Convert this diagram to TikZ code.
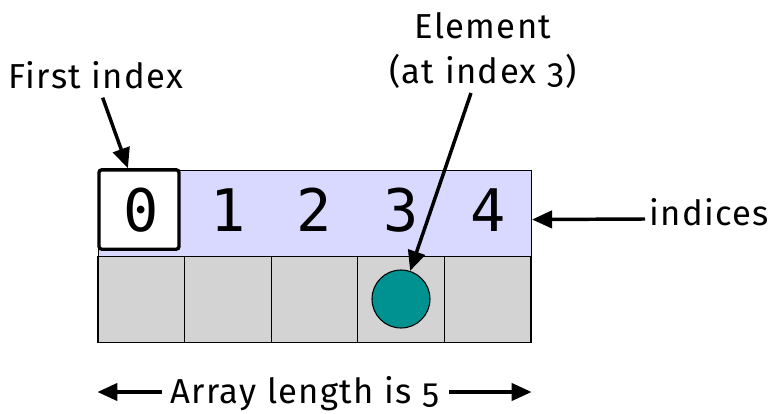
\documentclass[tikz,border=0pt]{standalone}
\usepackage{fontspec}
\setmainfont{Fira Sans}[Numbers=OldStyle, LetterSpace=4]
\newfontfamily\digitfont{DejaVu Sans Mono}
\usetikzlibrary{arrows.meta}
\definecolor{idxfill}{RGB}{217,217,255}
\definecolor{cellgray}{RGB}{211,211,211}
\definecolor{elemteal}{RGB}{0,145,145}
\begin{document}
\begin{tikzpicture}[x=0.75pt, y=-0.75pt,
  lbl/.style={font=\fontsize{26}{33.75}\selectfont, inner sep=0pt},
  idx/.style={font=\digitfont\fontsize{44}{44}\selectfont, inner sep=0pt},
  cell/.style={draw, fill=cellgray, line width=0.8pt, inner sep=0pt,
               minimum width=64.95pt, minimum height=64.9pt},
  pointer/.style={line width=2.6pt, -{Triangle[length=15pt,width=13pt]}},
]
\useasboundingbox (0,0) rectangle (769,414);

% row of indices
\node[draw, fill=idxfill, line width=0.8pt, inner sep=0pt, anchor=north west,
      minimum width=324.75pt, minimum height=64.5pt] (row) at (98,170) {};

% storage cells
\foreach \i in {0,...,4}
  \node[cell] (c\i) at ({98+86.6*(\i+0.5)},299.5) {};

% highlighted first index
\node[draw, fill=white, line width=2.5pt, rounded corners=2pt, inner sep=0pt,
      minimum width=60pt, minimum height=59.5pt] (fbox) at (139,209.5) {};

% index digits
\foreach \i in {0,...,4}
  \node[idx] (d\i) at ({98+86.6*(\i+0.5)},210) {\i};

% stored element
\node[circle, draw, fill=elemteal, line width=0.8pt, inner sep=0pt,
      minimum size=43.5pt] (circ) at (401,299) {};

% labels
\node[lbl, anchor=base] (first) at (96,88) {First index};
\node[lbl, anchor=south, align=center] (elem) at (483,89) {Element\\(at index 3)};
\node[lbl, anchor=base west] (ind) at (649,225) {indices};
\node[lbl, anchor=base] (len) at (305,403) {Array length is 5};

% pointers
\draw[pointer] ([xshift=5pt,yshift=-6.75pt]first.south) -- (fbox.105);
\draw[pointer] ([xshift=-9pt,yshift=-3pt]elem.south) -- (circ.72);
\draw[pointer] ([xshift=-3pt,yshift=4.5pt]ind.base west) -- ([yshift=-4.5pt]row.east);

\coordinate (lenL) at ([xshift=-6pt,yshift=8.25pt]len.base west);
\coordinate (lenR) at ([xshift=7pt,yshift=8.25pt]len.base east);
\draw[pointer] (lenL) -- (lenL -| c0.west);
\draw[pointer] (lenR) -- (lenR -| c4.east);
\end{tikzpicture}
\end{document}
